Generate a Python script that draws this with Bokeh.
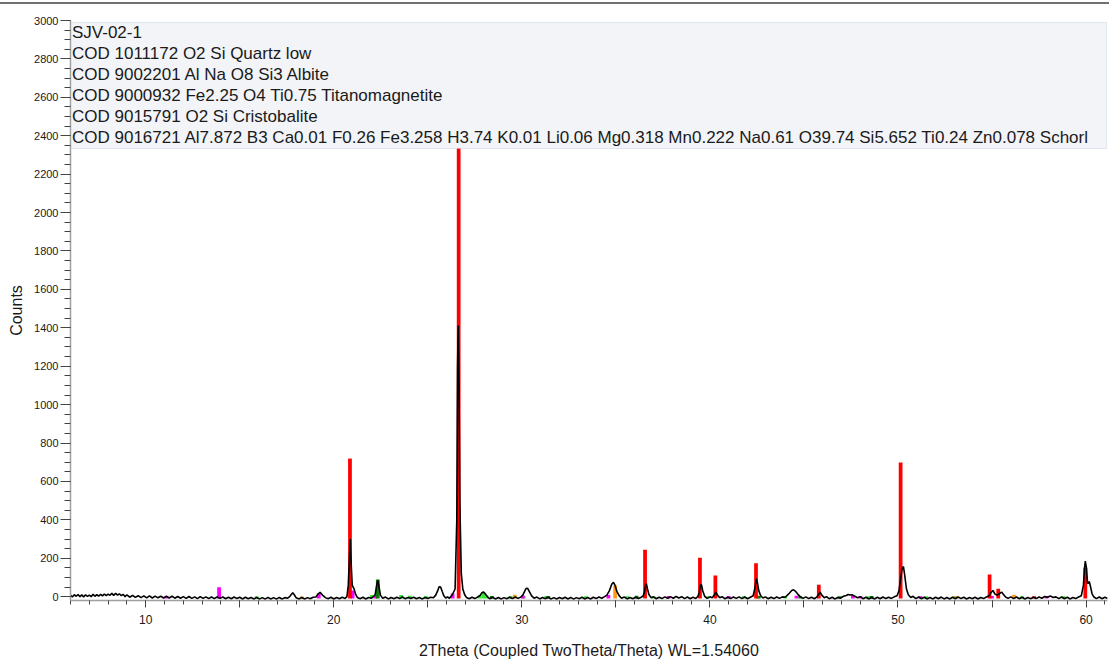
from bokeh.plotting import figure
from bokeh.models import Range1d, SingleIntervalTicker, BoxAnnotation, Label, Div
from bokeh.layouts import column
from bokeh.embed import file_html
from bokeh.resources import INLINE

# ---------------- data ----------------
sample_name = "SJV-02-1"

# measured pattern: (2theta, counts)
scan_points = [
    (6.0, 8), (6.1, -2), (6.2, 10), (6.3, 2), (6.4, 11), (6.5, 0), (6.6, 9), (6.7, -1),
    (6.8, 10), (6.9, 1), (7.0, 8), (7.1, 0), (7.2, 12), (7.3, 2), (7.4, 10), (7.5, 3),
    (7.6, 12), (7.7, 4), (7.8, 14), (7.9, 5), (8.0, 13), (8.1, 7), (8.2, 17), (8.3, 6),
    (8.4, 18), (8.5, 8), (8.6, 15), (8.7, 5), (8.8, 12), (8.9, 0), (9.0, 9), (9.15, -3),
    (9.3, 7), (9.45, -4), (9.6, 5), (9.75, -5), (9.9, 4), (10.05, -6), (10.2, 4), (10.35, -7),
    (10.5, 3), (10.65, -6), (10.8, 2), (10.95, -7), (11.1, 3), (11.25, -7), (11.4, 2),
    (11.55, -8), (11.7, 1), (11.85, -8), (12.0, 0), (12.15, -9), (12.3, 1), (12.45, -9),
    (12.6, -1), (12.75, -10), (12.9, 0), (13.05, -9), (13.2, -1), (13.35, -10), (13.5, -2),
    (13.65, -10), (13.8, -1), (13.95, -9), (14.1, -2), (14.25, -11), (14.4, -3), (14.55, -11),
    (14.7, -2), (14.85, -10), (15.0, -3), (15.15, -12), (15.3, -3), (15.45, -11), (15.6, -4),
    (15.75, -12), (15.9, -4), (16.05, -12), (16.2, -5), (16.35, -13), (16.5, -4), (16.65, -12),
    (16.8, -5), (16.95, -13), (17.1, -4), (17.25, -12), (17.4, -5), (17.55, -8), (17.65, 0),
    (17.75, 12), (17.82, 20), (17.9, 10), (18.0, -6), (18.15, -12), (18.3, -4), (18.45, -12),
    (18.6, -5), (18.75, -11), (18.9, -3), (19.05, -2), (19.15, 12), (19.27, 23), (19.4, 8),
    (19.55, -5), (19.7, -11), (19.85, -3), (20.0, -12), (20.15, -4), (20.3, -11), (20.45, -3),
    (20.6, -9), (20.7, 0), (20.77, 60), (20.84, 220), (20.88, 300), (20.92, 180),
    (20.98, 60), (21.03, 49), (21.08, 40), (21.15, 15), (21.25, -4), (21.4, -11), (21.55, -3),
    (21.7, -12), (21.85, -4), (22.0, -8), (22.12, 2), (22.2, 10), (22.28, 60), (22.34, 85),
    (22.4, 55), (22.48, 8), (22.6, -8), (22.75, -2), (22.9, -12), (23.05, -4), (23.2, -11),
    (23.35, -3), (23.5, -10), (23.65, -2), (23.8, -11), (23.95, -4), (24.1, -10), (24.25, -3),
    (24.4, -11), (24.55, -4), (24.7, -12), (24.85, -4), (25.0, -10), (25.15, -3), (25.3, -6),
    (25.42, 8), (25.52, 30), (25.6, 52), (25.68, 50), (25.76, 28), (25.85, 5), (25.95, -7),
    (26.05, -2), (26.15, -8), (26.3, 10), (26.45, 40), (26.54, 400), (26.58, 1200),
    (26.62, 1412), (26.66, 1100), (26.7, 500), (26.78, 120), (26.86, 40), (26.96, 10),
    (27.05, -4), (27.2, -11), (27.35, -3), (27.5, -10), (27.65, -2), (27.78, 6), (27.87, 20),
    (27.95, 25), (28.05, 15), (28.18, -2), (28.3, -11), (28.45, -3), (28.6, -12), (28.75, -4),
    (28.9, -12), (29.05, -5), (29.2, -11), (29.35, -3), (29.5, -10), (29.65, -2), (29.8, -9),
    (29.95, -2), (30.05, 8), (30.14, 26), (30.22, 42), (30.3, 44), (30.4, 26), (30.52, 4),
    (30.65, -8), (30.8, -2), (30.95, -12), (31.1, -4), (31.25, -11), (31.4, -3), (31.55, -12),
    (31.7, -5), (31.85, -12), (32.0, -4), (32.15, -11), (32.3, -3), (32.45, -12), (32.6, -4),
    (32.75, -13), (32.9, -5), (33.05, -11), (33.2, -3), (33.35, -12), (33.5, -4), (33.65, -12),
    (33.8, -3), (33.95, -10), (34.1, -2), (34.25, -8), (34.4, 0), (34.52, 8), (34.65, 30),
    (34.78, 65), (34.87, 75), (34.95, 60), (35.05, 28), (35.18, 4), (35.3, -8), (35.45, -2),
    (35.6, -12), (35.75, -4), (35.9, -11), (36.05, -3), (36.2, -10), (36.35, -3), (36.45, 4),
    (36.52, 24), (36.58, 60), (36.62, 67), (36.68, 40), (36.76, 10), (36.88, -6), (37.0, -1),
    (37.15, -11), (37.3, -3), (37.45, -10), (37.6, -1), (37.75, -9), (37.9, 0), (38.05, -8),
    (38.2, 1), (38.35, -7), (38.5, 0), (38.65, -10), (38.8, -2), (38.95, -11), (39.1, -3),
    (39.25, -9), (39.35, 0), (39.43, 22), (39.5, 60), (39.55, 63), (39.62, 30), (39.72, 2),
    (39.85, -9), (40.0, -1), (40.12, -6), (40.24, 10), (40.32, 23), (40.4, 8), (40.52, -6),
    (40.65, 0), (40.8, -11), (40.95, -3), (41.1, -10), (41.25, -2), (41.4, -9), (41.55, -1),
    (41.7, -10), (41.85, -2), (42.0, -11), (42.15, -3), (42.3, 5), (42.4, 50), (42.47, 93),
    (42.53, 70), (42.6, 30), (42.7, 5), (42.82, -7), (42.95, -1), (43.1, -11), (43.25, -3),
    (43.4, -10), (43.55, -2), (43.7, -9), (43.85, -1), (44.0, -3), (44.12, 8), (44.22, 18),
    (44.35, 32), (44.45, 36), (44.55, 28), (44.68, 12), (44.8, 0), (44.95, -9), (45.1, -1),
    (45.25, -10), (45.4, -3), (45.55, -11), (45.68, -2), (45.78, 12), (45.86, 23), (45.95, 8),
    (46.08, -6), (46.2, 0), (46.35, -11), (46.5, -3), (46.65, -12), (46.8, -4), (46.95, -8),
    (47.1, 2), (47.25, 6), (47.35, 11), (47.45, 9), (47.55, 10), (47.7, 2), (47.85, -6),
    (48.0, -1), (48.15, -11), (48.3, -3), (48.45, -12), (48.6, -4), (48.75, -12), (48.9, -3),
    (49.05, -11), (49.2, -2), (49.35, -10), (49.5, -3), (49.65, -9), (49.8, -1), (49.95, 5),
    (50.05, 30), (50.15, 100), (50.22, 145), (50.29, 157), (50.36, 110), (50.45, 40),
    (50.55, 10), (50.68, -4), (50.8, 2), (50.95, -10), (51.1, -2), (51.25, -11), (51.4, -3),
    (51.55, -12), (51.7, -4), (51.85, -12), (52.0, -3), (52.15, -11), (52.3, -2), (52.45, -12),
    (52.6, -4), (52.75, -12), (52.9, -3), (53.05, -11), (53.2, -2), (53.35, -10), (53.5, -3),
    (53.65, -12), (53.8, -4), (53.95, -11), (54.1, -3), (54.25, -12), (54.4, -4), (54.55, -10),
    (54.7, -2), (54.85, 5), (54.95, 22), (55.05, 32), (55.15, 15), (55.25, 8), (55.35, 12),
    (55.45, 20), (55.52, 23), (55.6, 12), (55.72, -2), (55.85, -9), (56.0, -1), (56.15, -10),
    (56.3, -2), (56.45, -11), (56.6, -3), (56.75, -12), (56.9, -4), (57.05, -11), (57.2, -3),
    (57.35, -10), (57.5, -2), (57.65, -8), (57.8, 1), (57.95, -3), (58.1, 3), (58.25, -4),
    (58.4, -1), (58.55, -10), (58.7, -2), (58.85, -11), (59.0, -3), (59.15, -12), (59.3, -4),
    (59.45, -10), (59.6, -2), (59.75, 5), (59.86, 60), (59.92, 150), (59.96, 185),
    (60.02, 150), (60.08, 70), (60.13, 70), (60.17, 79), (60.23, 55), (60.32, 15), (60.42, -2),
    (60.55, -10), (60.7, -2), (60.85, -11), (61.0, -3), (61.15, -9),
]
two_theta = [pt[0] for pt in scan_points]
counts = [pt[1] for pt in scan_points]

# reference phase sticks
quartz_pos = [20.86, 26.64, 36.55, 39.47, 40.29, 42.45, 45.79, 50.14, 54.87, 55.33, 57.24, 59.96]
quartz_int = [719, 2500, 244, 202, 110, 174, 62, 698, 115, 41, 2, 150]

albite_pos = [13.87, 15.9, 22.02, 23.58, 24.05, 24.9, 27.75, 27.95, 28.12, 29.4, 30.1, 31.3,
              33.4, 35.6, 37.0, 39.9, 41.8, 44.0, 48.4, 51.5, 53.0, 56.6, 58.8]
albite_int = [2, 2, 8, 8, 5, 3, 5, 23, 6, 3, 2, 3, 2, 2, 2, 2, 2, 2, 2, 2, 2, 2, 2]

titano_pos = [18.3, 29.62, 34.96, 42.55, 53.1, 56.17]
titano_int = [1, 10, 58, 6, 3, 10]

cristo_pos = [22.34, 28.4, 31.4, 36.1, 42.6, 44.8, 46.9, 48.6]
cristo_int = [89, 3, 4, 5, 3, 2, 2, 3]

schorl_pos = [11.1, 13.9, 19.2, 21.0, 22.22, 26.32, 30.05, 34.6, 37.8, 41.0, 44.6, 47.6,
              48.0, 51.2, 55.0, 57.9]
schorl_int = [4, 49, 18, 32, 8, 16, 6, 8, 3, 3, 5, 3, 4, 2, 4, 3]

legend_lines = [
    "SJV-02-1",
    "COD 1011172 O2 Si Quartz low",
    "COD 9002201 Al Na O8 Si3 Albite",
    "COD 9000932 Fe2.25 O4 Ti0.75 Titanomagnetite",
    "COD 9015791 O2 Si Cristobalite",
    "COD 9016721 Al7.872 B3 Ca0.01 F0.26 Fe3.258 H3.74 K0.01 Li0.06 Mg0.318 Mn0.222 "
    "Na0.61 O39.74 Si5.652 Ti0.24 Zn0.078 Schorl",
]

x_label = "2Theta (Coupled TwoTheta/Theta) WL=1.54060"
y_label = "Counts"

# ---------------- layout ----------------
TOP_BAR = 4
W, H = 1109, 662 - TOP_BAR
BL, BR, BT, BB = 70, 2, 20 - TOP_BAR, 62
X0, X1 = 6.0, 61.14
Y0, Y1 = -20, 3000
frame_h = H - BT - BB

def py(px_from_frame_top):
    # converts a pixel offset below the frame top into a counts value
    return Y1 - px_from_frame_top * (Y1 - Y0) / frame_h

p = figure(width=W, height=H, x_range=Range1d(X0, X1), y_range=Range1d(Y0, Y1),
           output_backend="svg", toolbar_location=None, tools="",
           min_border_left=BL, min_border_right=BR, min_border_top=BT, min_border_bottom=BB)
p.outline_line_color = None
p.xgrid.visible = False
p.ygrid.visible = False
p.background_fill_color = "white"
p.border_fill_color = "white"

STICK_W = 0.2
BASE = -10
phase_sets = [
    (albite_pos, albite_int, "#33e633"),
    (schorl_pos, schorl_int, "#ff00ff"),
    (titano_pos, titano_int, "#ff9a1a"),
    (cristo_pos, cristo_int, "#0a780a"),
    (quartz_pos, quartz_int, "#ff0000"),
]
for pos, inten, col in phase_sets:
    p.vbar(x=pos, top=inten, bottom=BASE, width=STICK_W, fill_color=col, line_color=None)

p.line(two_theta, counts, line_color="#000000", line_width=1.6)

# legend box
p.add_layout(BoxAnnotation(left=X0 + 0.04, right=X1 - 0.03, top=py(2), bottom=py(128),
                           fill_color="#f2f4f7", fill_alpha=1.0,
                           line_color="#a8b8cc", line_width=1))
for i, txt in enumerate(legend_lines):
    p.add_layout(Label(x=X0 + 0.08, y=py(12 + 21 * i), text=txt,
                       text_font="Liberation Sans", text_font_size="17px",
                       text_color="#1a1a1a", text_baseline="middle", text_align="left"))

# axes
xa = p.xaxis[0]
xa.ticker = SingleIntervalTicker(interval=5, num_minor_ticks=5)
xa.major_label_overrides = {v: "" for v in [5, 15, 25, 35, 45, 55]}
xa.axis_label = x_label
xa.axis_label_text_font = "Liberation Sans"
xa.axis_label_text_font_size = "16px"
xa.axis_label_text_font_style = "normal"
xa.axis_label_text_color = "#1a1a1a"
xa.axis_label_standoff = 15
xa.major_label_text_font = "Liberation Sans"
xa.major_label_text_font_size = "12px"
xa.major_label_text_color = "#1a1a1a"
xa.major_label_standoff = 7
xa.major_tick_out = 7
xa.major_tick_in = 0
xa.minor_tick_out = 4
xa.minor_tick_in = 0
xa.axis_line_color = "#a0a0a0"
xa.axis_line_width = 1.5
xa.major_tick_line_color = "#444444"
xa.minor_tick_line_color = "#444444"

ya = p.yaxis[0]
ya.ticker = SingleIntervalTicker(interval=200, num_minor_ticks=4)
ya.axis_label = y_label
ya.axis_label_text_font = "Liberation Sans"
ya.axis_label_text_font_size = "16px"
ya.axis_label_text_font_style = "normal"
ya.axis_label_text_color = "#1a1a1a"
ya.axis_label_standoff = 6
ya.major_label_text_font = "Liberation Sans"
ya.major_label_text_font_size = "11px"
ya.major_label_text_color = "#1a1a1a"
ya.major_label_standoff = 2
ya.major_tick_out = 10
ya.major_tick_in = 0
ya.minor_tick_out = 6
ya.minor_tick_in = 0
ya.axis_line_color = "#a0a0a0"
ya.axis_line_width = 1.5
ya.major_tick_line_color = "#444444"
ya.minor_tick_line_color = "#444444"

top_bar = Div(text="", width=W, height=2, margin=(2, 0, 0, 0),
              styles={"background-color": "#707070"})

layout = column(top_bar, p, spacing=0)
open("out.html", "w").write(file_html(layout, INLINE))
